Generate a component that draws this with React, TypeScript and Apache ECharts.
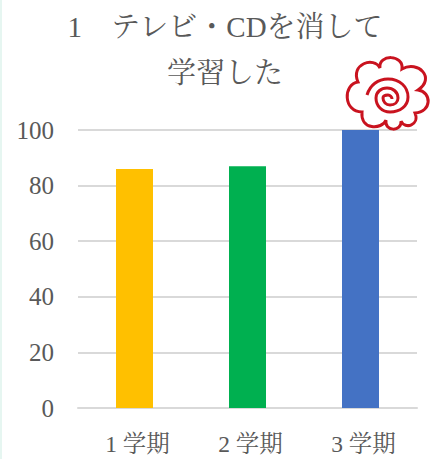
import React, { useEffect, useRef } from "react";
import * as echarts from "echarts";

const categories = ["1 学期", "2 学期", "3 学期"];
const values = [86, 87, 100];
const barColors = ["#FFC000", "#00B050", "#4472C4"];
const titleText = "1\u3000テレビ・CDを消して\n学習した";
const fontFamily = '"Liberation Serif", "Noto Serif CJK JP", "Noto Sans CJK JP", serif';

const flowerOutline =
  "M380 68 C378 54 404 54 402 69 C418 60 436 78 418 90 C432 92 432 112 415 113 C420 125 405 130 401 121 C402 132 384 132 386 120 C382 130 360 130 362 112 C343 112 343 84 358 82 C350 64 374 56 380 68 Z";
const flowerSpiral =
  "M367 95 C370 85 378 79 388 79 C400 79 408 87 408 97 C408 106 400 112 390 112 C382 112 376 106 376 98 C376 92 381 88 387 88 C393 88 398 92 398 98 C398 102 395 105 390 105 C386 105 383 102 383 98 C383 96 385 95 388 95 C390 95 392 97 392 99";

echarts.graphic.registerShape("flower", echarts.graphic.extendPath(flowerOutline + " " + flowerSpiral, {}) as any);

export default function App() {
  const ref = useRef<HTMLDivElement>(null);
  useEffect(() => {
    document.body.style.margin = "0";
    const chart = echarts.init(ref.current!, undefined, { renderer: "svg" });
    chart.setOption({
      animation: false,
      backgroundColor: "#ffffff",
      title: {
        text: titleText,
        left: 220,
        top: -1,
        textAlign: "center",
        textStyle: { fontFamily, fontSize: 29, fontWeight: "normal", color: "#595959", lineHeight: 46 },
      },
      grid: { left: 78, right: 24, top: 130, bottom: 51 },
      xAxis: {
        type: "category",
        data: categories,
        axisTick: { show: false },
        axisLine: { lineStyle: { color: "#D9D9D9", width: 2 } },
        axisLabel: { fontFamily, fontSize: 23.5, color: "#595959", margin: 24, padding: [0, 0, 0, 6] },
      },
      yAxis: {
        type: "value",
        min: 0,
        max: 100,
        interval: 20,
        axisLine: { show: false },
        axisTick: { show: false },
        splitLine: { lineStyle: { color: "#D9D9D9", width: 2 } },
        axisLabel: { fontFamily, fontSize: 25, color: "#595959", margin: 24 },
      },
      series: [
        {
          type: "bar",
          barWidth: 37,
          data: values.map((v, i) => ({ value: v, itemStyle: { color: barColors[i] } })),
        },
      ],
      graphic: [
        { type: "rect", shape: { x: 0, y: 0, width: 2, height: 459 }, style: { fill: "#E6F6F1" }, silent: true },
        { type: "flower", z: 10, style: { fill: "none", stroke: "#C9131F", lineWidth: 3 }, silent: true },
      ],
    });
    return () => chart.dispose();
  }, []);
  return <div ref={ref} style={{ width: 441, height: 459 }} />;
}
